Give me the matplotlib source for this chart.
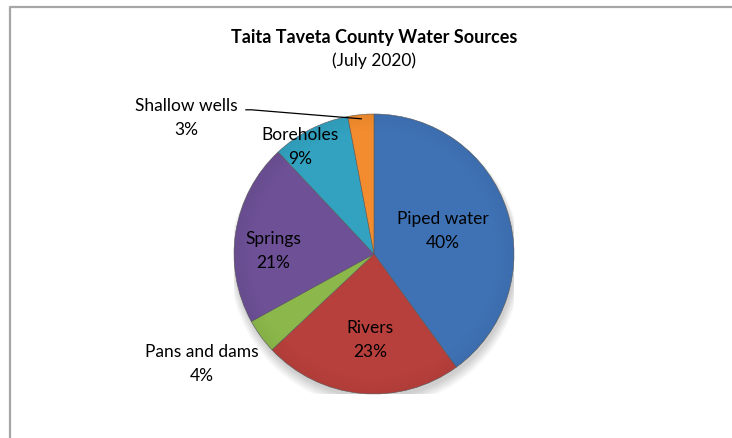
import numpy as np
import matplotlib.pyplot as plt
from matplotlib.patches import Circle, Wedge
from matplotlib.lines import Line2D

# data
sources = ["Piped water", "Rivers", "Pans and dams", "Springs", "Boreholes", "Shallow wells"]
shares = [40, 23, 4, 21, 9, 3]
colors = ["#3f72b5", "#b8403c", "#8cb84b", "#6d5096", "#32a2c0", "#f28c2e"]

# label centres in pie units (radius = 1)
label_xy = [(0.49, 0.17), (-0.03, -0.61), (-1.23, -0.78), (-0.72, 0.03),
            (-0.53, 0.77), (-1.34, 0.98)]

plt.rcParams['font.family'] = ['Lato', 'DejaVu Sans']

fig = plt.figure(figsize=(7.32, 4.39), dpi=100)
fig.patch.set_facecolor("white")
fig.patch.set_edgecolor("white")
fig.patch.set_linewidth(0)

# chart frame: only left and top edges are visible
fx, fy = 9.5 / 732, 1 - 7.5 / 439
fig.add_artist(Line2D([fx, fx, 1.1], [-0.1, fy, fy], transform=fig.transFigure,
                      color="#a6a6a6", linewidth=1.6))

fig.text(0.511, 1 - 37 / 439, "Taita Taveta County Water Sources",
         ha="center", va="center", fontsize=13, fontweight="bold")
fig.text(0.511, 1 - 61 / 439, "(July 2020)", ha="center", va="center", fontsize=12.5)

# pie axes: centre ~(374,255) px, radius ~140 px
cx, cy, r = 374, 255, 140
ax = fig.add_axes([(cx - r) / 732, (439 - cy - r) / 439, 2 * r / 732, 2 * r / 439])

# soft shadow
for k in range(8):
    ax.add_patch(Circle((0.01, -0.03 - k * 0.004), 1.0 + k * 0.006, color="black",
                        alpha=0.025, lw=0, zorder=0))

wedges, _ = ax.pie(shares, colors=colors, startangle=90, counterclock=False,
                   radius=1.0, wedgeprops=dict(edgecolor="#5a5a5a", linewidth=0.4),
                   labels=None)

# bevel: darken towards rim
for w in wedges:
    t1, t2 = w.theta1, w.theta2
    for k in range(10):
        rr = 1.0 - k * 0.012
        ax.add_patch(Wedge((0, 0), rr, t1, t2, width=0.012, color="black",
                           alpha=0.04 * (10 - k) / 10, lw=0, zorder=3))

total = sum(shares)
for w, name, val, (x, y) in zip(wedges, sources, shares, label_xy):
    if name == "Shallow wells":
        mid = np.deg2rad((w.theta1 + w.theta2) / 2)
        px, py = 0.97 * np.cos(mid), 0.97 * np.sin(mid)
        ax.plot([-0.915, -0.875, px], [1.03, 1.03, py], color="black", lw=0.9,
                zorder=6, clip_on=False)
    ax.text(x, y, f"{name}\n{round(val * 100 / total)}%", ha="center", va="center",
            fontsize=12.5, linespacing=1.6, zorder=7)

ax.set_xlim(-1, 1)
ax.set_ylim(-1, 1)
ax.axis("off")

fig.savefig("out.png", dpi=100)
